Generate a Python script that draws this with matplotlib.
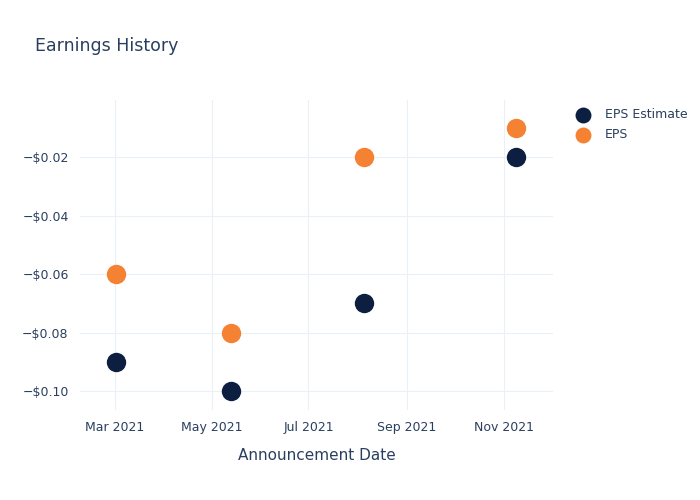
import matplotlib
matplotlib.use("Agg")
import matplotlib.pyplot as plt
import matplotlib.dates as mdates
import matplotlib.ticker as mticker
import pandas as pd

# Data
dates = ["2021-03-02", "2021-05-13", "2021-08-05", "2021-11-09"]
eps_estimate = [-0.09, -0.10, -0.07, -0.02]
eps_actual = [-0.06, -0.08, -0.02, -0.01]
tick_dates = ["2021-03-01", "2021-05-01", "2021-07-01", "2021-09-01", "2021-11-01"]

text_color = "#2a3f5f"
grid_color = "#ebf0f8"

x = pd.to_datetime(dates)

fig = plt.figure(figsize=(7, 5), dpi=100)
ax = fig.add_axes([0.114, 0.18, 0.676, 0.62])

ax.scatter(x, eps_estimate, s=195, color="#0c1f40", label="EPS Estimate", zorder=3, linewidths=0)
ax.scatter(x, eps_actual, s=195, color="#f58132", label="EPS", zorder=3, linewidths=0)

ax.set_xlim(pd.Timestamp("2021-02-07"), pd.Timestamp("2021-12-02"))
ax.set_ylim(-0.1065, -0.0005)

ax.set_xticks(pd.to_datetime(tick_dates))
ax.xaxis.set_major_formatter(mdates.DateFormatter("%b %Y"))
ax.set_yticks([-0.10, -0.08, -0.06, -0.04, -0.02])
ax.yaxis.set_major_formatter(mticker.FuncFormatter(lambda v, p: "\u2212$%.2f" % abs(v)))

ax.grid(True, color=grid_color, linewidth=0.8)
ax.set_axisbelow(True)
for s in ax.spines.values():
    s.set_visible(False)
ax.tick_params(length=0, labelsize=9, colors=text_color, pad=8)

ax.set_xlabel("Announcement Date", fontsize=11, color=text_color, labelpad=10)
fig.text(0.05, 0.898, "Earnings History", fontsize=12.5, color=text_color)

ax.legend(loc="upper left", bbox_to_anchor=(1.027, 0.99), frameon=False,
          fontsize=9, labelcolor=text_color, markerscale=0.82,
          handletextpad=0.7, borderaxespad=0, labelspacing=0.55)

fig.savefig("out.png", dpi=100)
